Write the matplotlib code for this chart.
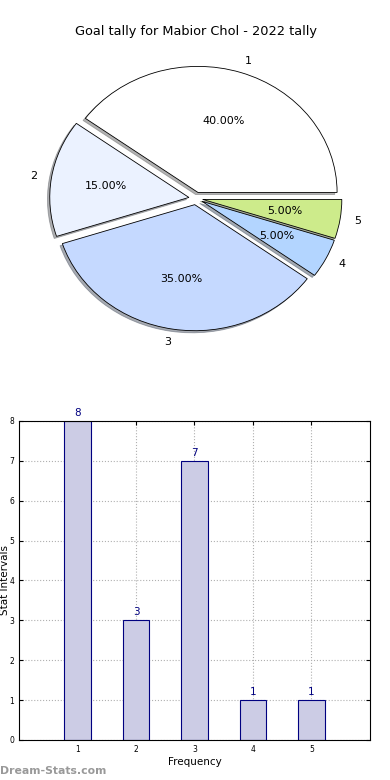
import matplotlib
matplotlib.use('Agg')
import matplotlib.pyplot as plt

# data
slice_labels = ['1', '2', '3', '4', '5']
slice_values = [8, 3, 7, 1, 1]
slice_colors = ['#ffffff', '#ebf2ff', '#c5d9ff', '#b3d5ff', '#cdeb8b']

bar_x = [1, 2, 3, 4, 5]
bar_counts = [8, 3, 7, 1, 1]

fig = plt.figure(figsize=(3.9, 7.8), dpi=100)

# pie chart (top)
ax1 = fig.add_axes([0.056, 0.5436, 0.892, 0.404])
wedges, texts, autotexts = ax1.pie(
    slice_values, labels=slice_labels, colors=slice_colors,
    explode=[0.05] * 5, shadow={'ox': -0.012, 'oy': -0.012, 'shade': 0.6},
    startangle=0, counterclock=True,
    autopct='%1.2f%%', pctdistance=0.6, labeldistance=1.1,
    wedgeprops={'edgecolor': 'black', 'linewidth': 0.6},
    textprops={'fontsize': 8})
ax1.set_aspect('auto')
ax1.set_xlim(-1.25, 1.25)
ax1.set_ylim(-1.25, 1.25)
ax1.set_title('Goal tally for Mabior Chol - 2022 tally', fontsize=9.3, pad=4)

# bar chart (bottom)
ax2 = fig.add_axes([0.0487, 0.0513, 0.9, 0.409])
bars = ax2.bar(bar_x, bar_counts, width=0.45, color='#ccccE5',
               edgecolor='#000080', linewidth=0.8, zorder=2)
for b, v in zip(bars, bar_counts):
    ax2.text(b.get_x() + b.get_width() / 2, v + 0.08, str(v),
             ha='center', va='bottom', color='#000080', fontsize=7.5)
ax2.set_xlim(0, 6)
ax2.set_ylim(0, 8)
ax2.set_xticks(bar_x)
ax2.set_yticks(range(0, 9))
ax2.tick_params(labelsize=5.5, direction='in', top=True, right=True, length=3)
ax2.grid(True, linestyle=':', color='#b0b0b0', linewidth=0.8, zorder=0)
ax2.set_axisbelow(True)
ax2.set_xlabel('Frequency', fontsize=7.5, labelpad=2)
ax2.set_ylabel('Stat Intervals', fontsize=7.5)
ax2.yaxis.set_label_coords(-0.026, 0.5)

fig.text(0.0, 0.012, 'Dream-Stats.com', fontsize=7.8, fontweight='bold',
         color='#999999', ha='left', va='center')

fig.savefig('out.png', dpi=100)
